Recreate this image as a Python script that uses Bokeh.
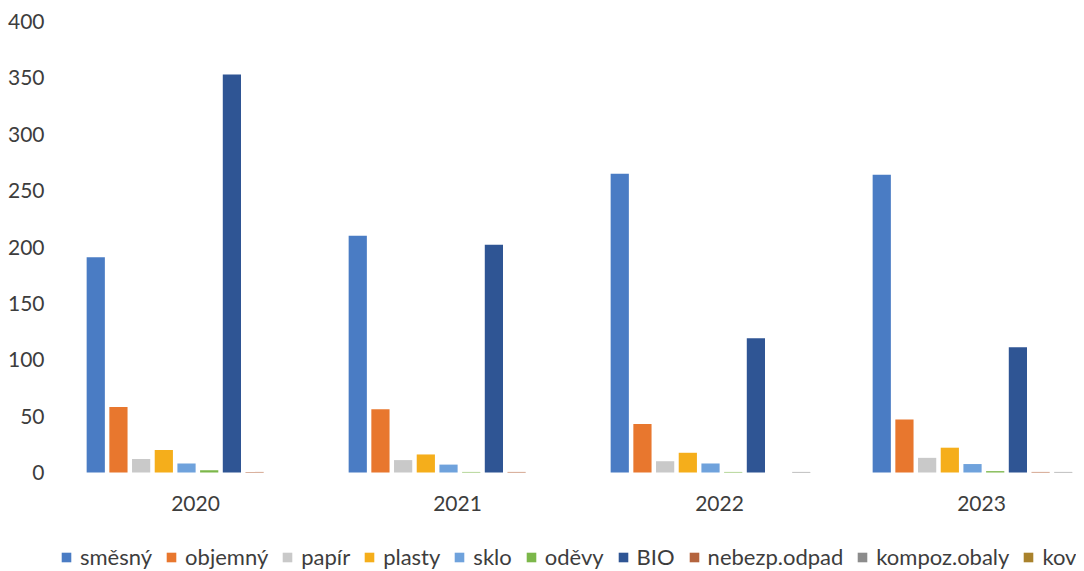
from bokeh.plotting import figure
from bokeh.models import ColumnDataSource, Range1d, FixedTicker, Legend, LegendItem
from bokeh.transform import dodge
from bokeh.embed import file_html
from bokeh.resources import INLINE

years = ["2020", "2021", "2022", "2023"]
categories = ["směsný", "objemný", "papír", "plasty", "sklo", "oděvy", "BIO",
              "nebezp.odpad", "kompoz.obaly", "kov"]
smesny = [191, 210, 265, 264]
objemny = [58, 56, 43, 47]
papir = [12, 11, 10, 13]
plasty = [20, 16, 17.5, 22]
sklo = [8, 7, 8, 7.5]
odevy = [2, 0.5, 0.5, 1.2]
bio = [353, 202, 119, 111]
nebezp = [0.5, 0.5, 0, 0.5]
kompoz = [0, 0, 0.5, 0.5]
kov = [0, 0, 0, 0.5]
y_ticks = [0, 50, 100, 150, 200, 250, 300, 350, 400]

series = [smesny, objemny, papir, plasty, sklo, odevy, bio, nebezp, kompoz, kov]
colors = ["#4a7cc4", "#e8772e", "#c9c9c9", "#f5ae1b", "#6fa2dc", "#7cb74a",
          "#2f5594", "#b4643e", "#8c8c8c", "#a9822c"]

data = {"idx": list(range(len(years)))}
keys = []
for i, s in enumerate(series):
    k = "s%d" % i
    keys.append(k)
    data[k] = s
source = ColumnDataSource(data)

FONT = "Lato"
TXT = "#3d3d3d"

W, H = 1076, 569
LEFT, TOP = 48, 21
PX_X = 262.0      # pixels per year group
PX_Y = 1.1275     # pixels per unit
x0 = -0.5 - 16 / PX_X
y0 = 400 - (H - TOP) / PX_Y
p = figure(width=W, height=H, output_backend="svg", toolbar_location=None,
           x_range=Range1d(x0, x0 + (W - LEFT) / PX_X), y_range=Range1d(y0, 400),
           min_border_left=LEFT, min_border_right=0, min_border_top=TOP,
           min_border_bottom=0)
p.outline_line_color = None
p.xgrid.grid_line_color = None
p.ygrid.grid_line_color = None

pitch = 0.0866
bw = 0.0695
renderers = []
for i, k in enumerate(keys):
    r = p.vbar(x=dodge("idx", (i - 4.5) * pitch + 0.009, range=p.x_range), top=k, width=bw,
               bottom=0, source=source, fill_color=colors[i], line_color=None)
    renderers.append(r)

p.xaxis.ticker = FixedTicker(ticks=list(range(len(years))))
p.xaxis.major_label_overrides = {i: y for i, y in enumerate(years)}
p.xaxis.fixed_location = 0
p.yaxis.ticker = FixedTicker(ticks=y_ticks)
for ax in (p.xaxis[0], p.yaxis[0]):
    ax.axis_line_color = None
    ax.major_tick_line_color = None
    ax.minor_tick_line_color = None
    ax.major_tick_out = 0
    ax.minor_tick_out = 0
    ax.major_label_text_font = FONT
    ax.major_label_text_font_size = "21px"
    ax.major_label_text_color = TXT
p.xaxis.major_label_standoff = 23
p.yaxis.major_label_standoff = 4

legend = Legend(items=[LegendItem(label=c, renderers=[r]) for c, r in zip(categories, renderers)],
                orientation="horizontal", location=(12, -1),
                glyph_width=12, glyph_height=12, label_standoff=8, spacing=13,
                padding=0, margin=0, border_line_color=None, background_fill_alpha=0,
                label_text_font=FONT, label_text_font_size="22px", label_text_color=TXT,
                label_height=22)
p.add_layout(legend, "center")

open("out.html", "w").write(file_html(p, INLINE))
